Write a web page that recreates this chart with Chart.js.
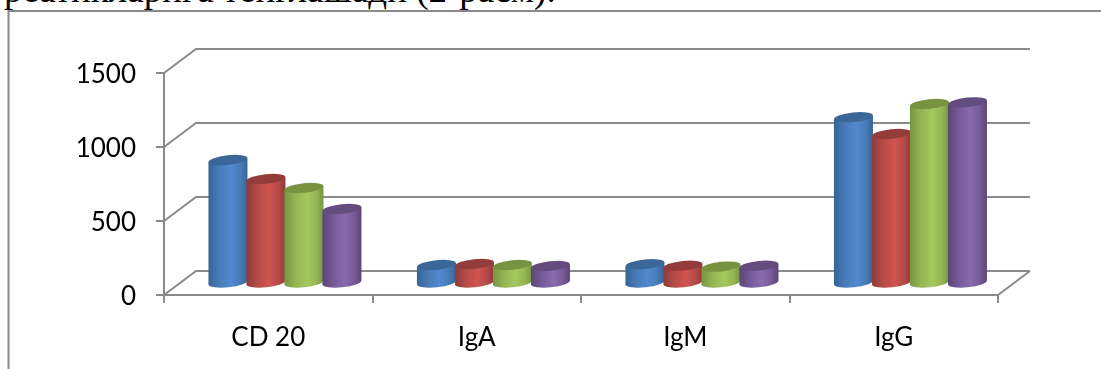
<!DOCTYPE html>
<html><head><meta charset="utf-8">
<style>
html,body{margin:0;padding:0;background:#fff;overflow:hidden}
#wrap{position:relative;width:1101px;height:369px;overflow:hidden}
#clipline{position:absolute;left:4px;top:-31px;font:37px "Liberation Serif",serif;color:#000;white-space:nowrap;line-height:42px}
canvas{position:absolute;left:0;top:0}
</style>
<script src="https://cdn.jsdelivr.net/npm/chart.js@4"></script>
</head><body>
<div id="wrap">
<div id="clipline">реатикларига тенглашади (2-расм).</div>
<canvas id="c" width="1101" height="369"></canvas>
</div>
<script>
const categories = ["CD 20","IgA","IgM","IgG"];
const seriesA = [834,125,130,1123];
const seriesB = [706,132,120,1010];
const seriesC = [645,125,114,1213];
const seriesD = [503,118,120,1224];
const yTicks = [0,500,1000,1500];

const LINE = '#8a8a8a';
const DEPTH_X = 32, DEPTH_Y = 24;
const palettes = [
 {edge:'#376497',dim:'#477bb8',mid:'#5288ce',top:'#3a6698'},
 {edge:'#8f3b39',dim:'#b54a47',mid:'#cf5552',top:'#943c3a'},
 {edge:'#789540',dim:'#94b553',mid:'#a4c85f',top:'#789340'},
 {edge:'#5b4676',dim:'#755a98',mid:'#8a6bae',top:'#624d7e'}
];

const wall3d = {
  id:'wall3d',
  beforeDatasetsDraw(chart){
    const {ctx,scales:{x,y}}=chart;
    ctx.save();
    ctx.strokeStyle=LINE; ctx.lineWidth=2;
    yTicks.forEach(v=>{
      const py=y.getPixelForValue(v);
      ctx.beginPath();
      ctx.moveTo(x.left,py);
      ctx.lineTo(x.left+DEPTH_X,py-DEPTH_Y);
      ctx.lineTo(x.right+DEPTH_X,py-DEPTH_Y);
      ctx.stroke();
    });
    const p0=y.getPixelForValue(0);
    ctx.beginPath();
    ctx.moveTo(x.right,p0);
    ctx.lineTo(x.right+DEPTH_X,p0-DEPTH_Y);
    ctx.stroke();
    ctx.restore();
  },
  afterDatasetsDraw(chart){
    const {ctx}=chart;
    const tilt=-6*Math.PI/180, ry=4.8;
    const n=categories.length;
    for(let j=0;j<n;j++){
      chart.data.datasets.forEach((ds,i)=>{
        const bar=chart.getDatasetMeta(i).data[j];
        const p=palettes[i];
        const cx=bar.x+DEPTH_X/2+0.7, rx=bar.width/2+0.5;
        const ty=bar.y-DEPTH_Y/2+0.5, by=bar.base-DEPTH_Y/2+0.5;
        const d=rx*Math.sin(-tilt);
        const g=ctx.createLinearGradient(cx-rx,0,cx+rx,0);
        g.addColorStop(0,p.edge);g.addColorStop(0.28,p.dim);
        g.addColorStop(0.58,p.mid);
        g.addColorStop(0.82,p.dim);g.addColorStop(1,p.edge);
        ctx.save();
        ctx.fillStyle=g;
        ctx.beginPath();
        ctx.ellipse(cx,by,rx,ry,tilt,0,Math.PI*2);
        ctx.fill();
        ctx.beginPath();
        ctx.moveTo(cx-rx,ty+d);ctx.lineTo(cx+rx,ty-d);
        ctx.lineTo(cx+rx,by-d);ctx.lineTo(cx-rx,by+d);
        ctx.closePath();ctx.fill();
        ctx.fillStyle=p.top;
        ctx.beginPath();
        ctx.ellipse(cx,ty,rx,ry,tilt,0,Math.PI*2);
        ctx.fill();
        ctx.restore();
      });
    }
  }
};

new Chart(document.getElementById('c'),{
  type:'bar',
  data:{labels:categories,datasets:[seriesA,seriesB,seriesC,seriesD].map((d,i)=>({
    label:'Series '+(i+1),data:d,backgroundColor:'rgba(0,0,0,0)',borderWidth:0,
    categoryPercentage:0.729,barPercentage:1
  }))},
  options:{
    responsive:false,animation:false,
    layout:{padding:{left:0,right:103,top:73,bottom:0}},
    plugins:{legend:{display:false},title:{display:false},tooltip:{enabled:false}},
    scales:{
      x:{
        afterFit(s){s.height=74;},
        grid:{offset:true,drawOnChartArea:false,drawTicks:true,tickLength:8,color:LINE,lineWidth:2},
        border:{display:true,color:LINE,width:2},
        ticks:{color:'#000',font:{family:'Lato',size:26},padding:19,maxRotation:0}
      },
      y:{
        min:0,max:1500,
        afterFit(s){s.width=164;},
        afterBuildTicks(s){s.ticks=yTicks.map(v=>({value:v}));},
        grid:{drawOnChartArea:false,drawTicks:true,tickLength:8,color:LINE,lineWidth:2},
        border:{display:true,color:LINE,width:2},
        ticks:{color:'#000',font:{family:'Lato',size:26},padding:20,labelOffset:2,callback:v=>String(v)}
      }
    }
  },
  plugins:[wall3d,{
    id:'frame',
    beforeDraw(chart){
      const {ctx}=chart;
      ctx.save();ctx.strokeStyle=LINE;ctx.lineWidth=2;
      ctx.beginPath();ctx.moveTo(8.5,369);ctx.lineTo(8.5,11);ctx.lineTo(1101,11);ctx.stroke();
      ctx.restore();
    }
  }]
});
</script>
</body></html>
